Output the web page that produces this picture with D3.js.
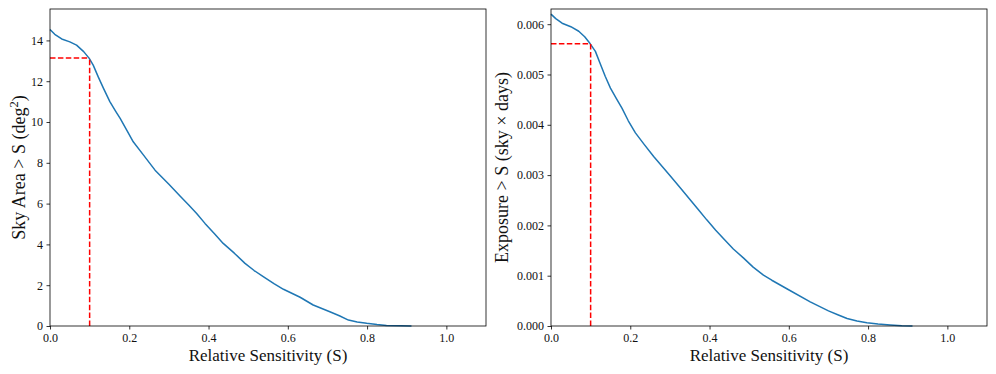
<!DOCTYPE html>
<html>
<head>
<meta charset="utf-8">
<script src="https://cdn.jsdelivr.net/npm/d3@7"></script>
<style>
  body { margin: 0; background: #fff; }
</style>
</head>
<body>
<svg id="chart" width="996" height="374" font-family="Liberation Serif"></svg>
<script>
// Relative sensitivity S (x values) for each curve
const areaS = [0.0, 0.012, 0.0295, 0.05, 0.067, 0.085, 0.099, 0.109, 0.122, 0.135, 0.151, 0.165, 0.177, 0.195, 0.21, 0.235, 0.265, 0.30, 0.328, 0.35, 0.37, 0.391, 0.415, 0.437, 0.465, 0.492, 0.515, 0.538, 0.565, 0.589, 0.631, 0.664, 0.706, 0.73, 0.753, 0.775, 0.799, 0.825, 0.849, 0.885, 0.912];
// Sky area > S (deg^2)
const areaVals = [14.54, 14.30, 14.07, 13.93, 13.77, 13.45, 13.12, 12.79, 12.20, 11.65, 11.0, 10.55, 10.18, 9.55, 9.03, 8.40, 7.64, 6.95, 6.37, 5.93, 5.52, 5.03, 4.52, 4.05, 3.57, 3.07, 2.72, 2.42, 2.08, 1.80, 1.41, 1.03, 0.70, 0.50, 0.29, 0.20, 0.13, 0.07, 0.03, 0.01, 0.0];

const expoS = [0.0, 0.012, 0.028, 0.05, 0.070, 0.085, 0.099, 0.112, 0.125, 0.137, 0.150, 0.165, 0.179, 0.195, 0.213, 0.235, 0.259, 0.30, 0.326, 0.35, 0.372, 0.393, 0.415, 0.435, 0.46, 0.486, 0.51, 0.536, 0.557, 0.595, 0.654, 0.700, 0.725, 0.747, 0.772, 0.797, 0.825, 0.856, 0.885, 0.912];
// Exposure > S (sky x days)
const expoVals = [0.00620, 0.00611, 0.00602, 0.00595, 0.00586, 0.00575, 0.00561, 0.00546, 0.00520, 0.00496, 0.00473, 0.00452, 0.00433, 0.00408, 0.00384, 0.00361, 0.00337, 0.00299, 0.00275, 0.00252, 0.00231, 0.00211, 0.00191, 0.00174, 0.00153, 0.00135, 0.00117, 0.00101, 0.00091, 0.00074, 0.00048, 0.00030, 0.00022, 0.00015, 0.00010, 0.000066, 0.00004, 0.00002, 0.000005, 0.0];

// Threshold marker
const thresholdS = 0.1;
const areaAtThreshold = 13.14;
const expoAtThreshold = 0.005612;

// Tick labels
const xTicks = [0.0, 0.2, 0.4, 0.6, 0.8, 1.0];
const areaTicks = [0, 2, 4, 6, 8, 10, 12, 14];
const expoTicks = [0, 0.001, 0.002, 0.003, 0.004, 0.005, 0.006];

const FONT = "Liberation Serif";
const svg = d3.select("#chart");

function panel(opts) {
  const g = svg.append("g").attr("font-family", FONT);
  const x = d3.scaleLinear().domain([0, 1.1]).range([opts.left, opts.left + 436]);
  const y = d3.scaleLinear().domain([0, opts.ymax]).range([326, 9]);

  const xAxis = d3.axisBottom(x).tickValues(xTicks).tickFormat(d3.format(".1f")).tickSize(3.5).tickPadding(3.5);
  const yAxis = d3.axisLeft(y).tickValues(opts.yTicks).tickFormat(opts.yFormat).tickSize(3.5).tickPadding(3.5);

  const gx = g.append("g").attr("transform", "translate(0,326)").call(xAxis);
  const gy = g.append("g").attr("transform", `translate(${opts.left},0)`).call(yAxis);
  [gx, gy].forEach(a => {
    a.attr("font-family", FONT).attr("font-size", 12);
    a.select(".domain").remove();
    a.selectAll(".tick line").attr("stroke", "#000").attr("stroke-width", 0.8);
    a.selectAll(".tick text").attr("fill", "#111").attr("font-family", FONT).attr("font-size", 12);
  });

  // curve
  const line = d3.line().x(d => x(d[0])).y(d => y(d[1]));
  const pts = opts.xs.map((s, i) => [s, opts.ys[i]]);
  g.append("path").datum(pts).attr("d", line)
    .attr("fill", "none").attr("stroke", "#1f77b4").attr("stroke-width", 1.5)
    .attr("stroke-linejoin", "round");

  // red dashed threshold lines
  g.append("line")
    .attr("x1", x(thresholdS)).attr("x2", x(thresholdS))
    .attr("y1", y(0)).attr("y2", y(opts.thr))
    .attr("stroke", "red").attr("stroke-width", 1.5).attr("stroke-dasharray", "5.5,2.4");
  g.append("line")
    .attr("x1", x(0)).attr("x2", x(thresholdS))
    .attr("y1", y(opts.thr)).attr("y2", y(opts.thr))
    .attr("stroke", "red").attr("stroke-width", 1.5).attr("stroke-dasharray", "5.5,2.4");

  // frame
  g.append("rect").attr("x", opts.left).attr("y", 9).attr("width", 436).attr("height", 317)
    .attr("fill", "none").attr("stroke", "#000").attr("stroke-width", 0.8);

  // x label
  g.append("text").attr("x", opts.left + 218).attr("y", 361)
    .attr("text-anchor", "middle").attr("fill", "#111")
    .attr("font-family", FONT).attr("font-size", 17)
    .text("Relative Sensitivity (S)");

  // y label
  const yl = g.append("text").attr("transform", `translate(${opts.ylabX},${(9 + 326) / 2}) rotate(-90)`)
    .attr("text-anchor", "middle").attr("fill", "#111")
    .attr("font-family", FONT).attr("font-size", 18);
  opts.ylabel(yl);
}

panel({
  left: 50, ymax: 15.54, yTicks: areaTicks, yFormat: d3.format("d"),
  xs: areaS, ys: areaVals, thr: areaAtThreshold, ylabX: 25,
  ylabel: t => {
    t.append("tspan").text("Sky Area > S (deg");
    t.append("tspan").attr("font-size", 12.5).attr("dy", -7).text("2");
    t.append("tspan").attr("dy", 7).text(")");
  }
});

panel({
  left: 551, ymax: 0.006302, yTicks: expoTicks, yFormat: d3.format(".3f"),
  xs: expoS, ys: expoVals, thr: expoAtThreshold, ylabX: 508,
  ylabel: t => t.text("Exposure > S (sky \u00d7 days)")
});
</script>
</body>
</html>
